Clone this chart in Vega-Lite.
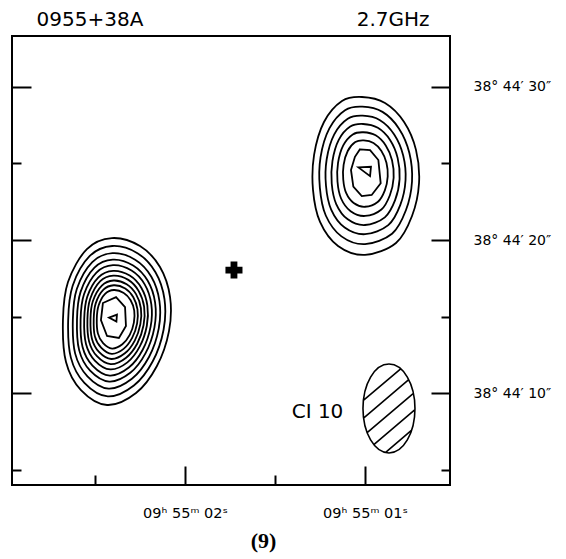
{
 "$schema": "https://vega.github.io/schema/vega-lite/v6.json",
 "width": 438,
 "height": 449,
 "autosize": {"type": "none"},
 "padding": {"left": 12, "top": 36, "right": 116, "bottom": 74},
 "background": "white",
 "config": {
  "view": {"stroke": "black", "strokeWidth": 2},
  "axis": {"grid": false, "domain": false, "tickColor": "black", "tickWidth": 2, "labelColor": "black", "labelFont": "DejaVu Sans", "labelFontSize": 13.5, "labelOverlap": false, "labelFlush": false, "labelBound": false}
 },
 "datasets": {
  "rings": [
   {"c":"L0","i":0,"ra":2.406,"dec":20.13},{"c":"L0","i":1,"ra":2.250,"dec":19.61},{"c":"L0","i":2,"ra":2.139,"dec":18.24},{"c":"L0","i":3,"ra":2.083,"dec":16.28},{"c":"L0","i":4,"ra":2.089,"dec":14.06},{"c":"L0","i":5,"ra":2.156,"dec":11.78},{"c":"L0","i":6,"ra":2.272,"dec":10.02},{"c":"L0","i":7,"ra":2.433,"dec":9.24},{"c":"L0","i":8,"ra":2.578,"dec":10.21},{"c":"L0","i":9,"ra":2.661,"dec":12.04},{"c":"L0","i":10,"ra":2.678,"dec":14.78},{"c":"L0","i":11,"ra":2.650,"dec":17.26},{"c":"L0","i":12,"ra":2.545,"dec":19.41},
   {"c":"L1","i":0,"ra":2.404,"dec":19.61},{"c":"L1","i":1,"ra":2.264,"dec":19.14},{"c":"L1","i":2,"ra":2.164,"dec":17.90},{"c":"L1","i":3,"ra":2.114,"dec":16.14},{"c":"L1","i":4,"ra":2.119,"dec":14.15},{"c":"L1","i":5,"ra":2.179,"dec":12.09},{"c":"L1","i":6,"ra":2.284,"dec":10.51},{"c":"L1","i":7,"ra":2.429,"dec":9.80},{"c":"L1","i":8,"ra":2.559,"dec":10.68},{"c":"L1","i":9,"ra":2.634,"dec":12.33},{"c":"L1","i":10,"ra":2.649,"dec":14.79},{"c":"L1","i":11,"ra":2.624,"dec":17.02},{"c":"L1","i":12,"ra":2.529,"dec":18.96},
   {"c":"L2","i":0,"ra":2.403,"dec":19.14},{"c":"L2","i":1,"ra":2.277,"dec":18.72},{"c":"L2","i":2,"ra":2.187,"dec":17.61},{"c":"L2","i":3,"ra":2.142,"dec":16.02},{"c":"L2","i":4,"ra":2.146,"dec":14.22},{"c":"L2","i":5,"ra":2.200,"dec":12.37},{"c":"L2","i":6,"ra":2.295,"dec":10.95},{"c":"L2","i":7,"ra":2.425,"dec":10.31},{"c":"L2","i":8,"ra":2.542,"dec":11.11},{"c":"L2","i":9,"ra":2.610,"dec":12.59},{"c":"L2","i":10,"ra":2.623,"dec":14.81},{"c":"L2","i":11,"ra":2.601,"dec":16.81},{"c":"L2","i":12,"ra":2.515,"dec":18.56},
   {"c":"L3","i":0,"ra":2.401,"dec":18.72},{"c":"L3","i":1,"ra":2.288,"dec":18.34},{"c":"L3","i":2,"ra":2.207,"dec":17.34},{"c":"L3","i":3,"ra":2.166,"dec":15.91},{"c":"L3","i":4,"ra":2.170,"dec":14.29},{"c":"L3","i":5,"ra":2.219,"dec":12.62},{"c":"L3","i":6,"ra":2.304,"dec":11.34},{"c":"L3","i":7,"ra":2.421,"dec":10.77},{"c":"L3","i":8,"ra":2.527,"dec":11.48},{"c":"L3","i":9,"ra":2.588,"dec":12.82},{"c":"L3","i":10,"ra":2.600,"dec":14.82},{"c":"L3","i":11,"ra":2.580,"dec":16.62},{"c":"L3","i":12,"ra":2.503,"dec":18.20},
   {"c":"L4","i":0,"ra":2.400,"dec":18.36},{"c":"L4","i":1,"ra":2.297,"dec":18.01},{"c":"L4","i":2,"ra":2.224,"dec":17.11},{"c":"L4","i":3,"ra":2.187,"dec":15.81},{"c":"L4","i":4,"ra":2.191,"dec":14.35},{"c":"L4","i":5,"ra":2.235,"dec":12.84},{"c":"L4","i":6,"ra":2.312,"dec":11.68},{"c":"L4","i":7,"ra":2.418,"dec":11.16},{"c":"L4","i":8,"ra":2.514,"dec":11.81},{"c":"L4","i":9,"ra":2.569,"dec":13.02},{"c":"L4","i":10,"ra":2.580,"dec":14.82},{"c":"L4","i":11,"ra":2.561,"dec":16.46},{"c":"L4","i":12,"ra":2.492,"dec":17.88},
   {"c":"L5","i":0,"ra":2.399,"dec":17.99},{"c":"L5","i":1,"ra":2.307,"dec":17.68},{"c":"L5","i":2,"ra":2.242,"dec":16.87},{"c":"L5","i":3,"ra":2.209,"dec":15.72},{"c":"L5","i":4,"ra":2.212,"dec":14.41},{"c":"L5","i":5,"ra":2.251,"dec":13.06},{"c":"L5","i":6,"ra":2.320,"dec":12.02},{"c":"L5","i":7,"ra":2.415,"dec":11.56},{"c":"L5","i":8,"ra":2.501,"dec":12.14},{"c":"L5","i":9,"ra":2.550,"dec":13.22},{"c":"L5","i":10,"ra":2.560,"dec":14.83},{"c":"L5","i":11,"ra":2.543,"dec":16.30},{"c":"L5","i":12,"ra":2.481,"dec":17.57},
   {"c":"L6","i":0,"ra":2.398,"dec":17.68},{"c":"L6","i":1,"ra":2.315,"dec":17.40},{"c":"L6","i":2,"ra":2.257,"dec":16.67},{"c":"L6","i":3,"ra":2.227,"dec":15.64},{"c":"L6","i":4,"ra":2.230,"dec":14.46},{"c":"L6","i":5,"ra":2.265,"dec":13.25},{"c":"L6","i":6,"ra":2.327,"dec":12.32},{"c":"L6","i":7,"ra":2.413,"dec":11.90},{"c":"L6","i":8,"ra":2.489,"dec":12.42},{"c":"L6","i":9,"ra":2.533,"dec":13.39},{"c":"L6","i":10,"ra":2.542,"dec":14.84},{"c":"L6","i":11,"ra":2.527,"dec":16.15},{"c":"L6","i":12,"ra":2.472,"dec":17.30},
   {"c":"L7","i":0,"ra":2.397,"dec":17.36},{"c":"L7","i":1,"ra":2.324,"dec":17.12},{"c":"L7","i":2,"ra":2.272,"dec":16.47},{"c":"L7","i":3,"ra":2.245,"dec":15.55},{"c":"L7","i":4,"ra":2.248,"dec":14.51},{"c":"L7","i":5,"ra":2.279,"dec":13.44},{"c":"L7","i":6,"ra":2.334,"dec":12.61},{"c":"L7","i":7,"ra":2.410,"dec":12.24},{"c":"L7","i":8,"ra":2.478,"dec":12.70},{"c":"L7","i":9,"ra":2.517,"dec":13.56},{"c":"L7","i":10,"ra":2.525,"dec":14.85},{"c":"L7","i":11,"ra":2.512,"dec":16.01},{"c":"L7","i":12,"ra":2.462,"dec":17.03},
   {"c":"L8","i":0,"ra":2.396,"dec":17.05},{"c":"L8","i":1,"ra":2.332,"dec":16.84},{"c":"L8","i":2,"ra":2.287,"dec":16.27},{"c":"L8","i":3,"ra":2.264,"dec":15.47},{"c":"L8","i":4,"ra":2.266,"dec":14.56},{"c":"L8","i":5,"ra":2.293,"dec":13.63},{"c":"L8","i":6,"ra":2.341,"dec":12.90},{"c":"L8","i":7,"ra":2.407,"dec":12.58},{"c":"L8","i":8,"ra":2.466,"dec":12.98},{"c":"L8","i":9,"ra":2.501,"dec":13.73},{"c":"L8","i":10,"ra":2.507,"dec":14.86},{"c":"L8","i":11,"ra":2.496,"dec":15.87},{"c":"L8","i":12,"ra":2.453,"dec":16.76},
   {"c":"L9","i":0,"ra":2.395,"dec":16.74},{"c":"L9","i":1,"ra":2.340,"dec":16.55},{"c":"L9","i":2,"ra":2.302,"dec":16.07},{"c":"L9","i":3,"ra":2.282,"dec":15.39},{"c":"L9","i":4,"ra":2.284,"dec":14.61},{"c":"L9","i":5,"ra":2.307,"dec":13.81},{"c":"L9","i":6,"ra":2.348,"dec":13.20},{"c":"L9","i":7,"ra":2.405,"dec":12.92},{"c":"L9","i":8,"ra":2.455,"dec":13.27},{"c":"L9","i":9,"ra":2.484,"dec":13.91},{"c":"L9","i":10,"ra":2.490,"dec":14.86},{"c":"L9","i":11,"ra":2.480,"dec":15.73},{"c":"L9","i":12,"ra":2.444,"dec":16.49},
   {"c":"R0","i":0,"ra":1.017,"dec":29.33},{"c":"R0","i":1,"ra":0.889,"dec":28.94},{"c":"R0","i":2,"ra":0.783,"dec":27.70},{"c":"R0","i":3,"ra":0.717,"dec":25.88},{"c":"R0","i":4,"ra":0.700,"dec":23.72},{"c":"R0","i":5,"ra":0.739,"dec":21.57},{"c":"R0","i":6,"ra":0.828,"dec":19.81},{"c":"R0","i":7,"ra":1.000,"dec":19.03},{"c":"R0","i":8,"ra":1.150,"dec":19.61},{"c":"R0","i":9,"ra":1.250,"dec":21.18},{"c":"R0","i":10,"ra":1.289,"dec":23.27},{"c":"R0","i":11,"ra":1.283,"dec":25.55},{"c":"R0","i":12,"ra":1.228,"dec":27.70},{"c":"R0","i":13,"ra":1.128,"dec":29.07},
   {"c":"R1","i":0,"ra":1.015,"dec":28.70},{"c":"R1","i":1,"ra":0.903,"dec":28.36},{"c":"R1","i":2,"ra":0.812,"dec":27.28},{"c":"R1","i":3,"ra":0.754,"dec":25.69},{"c":"R1","i":4,"ra":0.739,"dec":23.82},{"c":"R1","i":5,"ra":0.773,"dec":21.94},{"c":"R1","i":6,"ra":0.850,"dec":20.41},{"c":"R1","i":7,"ra":1.000,"dec":19.73},{"c":"R1","i":8,"ra":1.131,"dec":20.24},{"c":"R1","i":9,"ra":1.218,"dec":21.60},{"c":"R1","i":10,"ra":1.251,"dec":23.42},{"c":"R1","i":11,"ra":1.247,"dec":25.41},{"c":"R1","i":12,"ra":1.198,"dec":27.28},{"c":"R1","i":13,"ra":1.111,"dec":28.47},
   {"c":"R2","i":0,"ra":1.013,"dec":28.11},{"c":"R2","i":1,"ra":0.917,"dec":27.82},{"c":"R2","i":2,"ra":0.838,"dec":26.89},{"c":"R2","i":3,"ra":0.788,"dec":25.52},{"c":"R2","i":4,"ra":0.775,"dec":23.90},{"c":"R2","i":5,"ra":0.804,"dec":22.29},{"c":"R2","i":6,"ra":0.871,"dec":20.97},{"c":"R2","i":7,"ra":1.000,"dec":20.38},{"c":"R2","i":8,"ra":1.113,"dec":20.82},{"c":"R2","i":9,"ra":1.188,"dec":21.99},{"c":"R2","i":10,"ra":1.217,"dec":23.56},{"c":"R2","i":11,"ra":1.213,"dec":25.27},{"c":"R2","i":12,"ra":1.171,"dec":26.89},{"c":"R2","i":13,"ra":1.096,"dec":27.91},
   {"c":"R3","i":0,"ra":1.011,"dec":27.57},{"c":"R3","i":1,"ra":0.929,"dec":27.32},{"c":"R3","i":2,"ra":0.861,"dec":26.53},{"c":"R3","i":3,"ra":0.819,"dec":25.36},{"c":"R3","i":4,"ra":0.808,"dec":23.98},{"c":"R3","i":5,"ra":0.833,"dec":22.60},{"c":"R3","i":6,"ra":0.890,"dec":21.48},{"c":"R3","i":7,"ra":1.000,"dec":20.98},{"c":"R3","i":8,"ra":1.096,"dec":21.35},{"c":"R3","i":9,"ra":1.160,"dec":22.35},{"c":"R3","i":10,"ra":1.185,"dec":23.69},{"c":"R3","i":11,"ra":1.181,"dec":25.15},{"c":"R3","i":12,"ra":1.146,"dec":26.53},{"c":"R3","i":13,"ra":1.082,"dec":27.40},
   {"c":"R4","i":0,"ra":1.009,"dec":27.03},{"c":"R4","i":1,"ra":0.941,"dec":26.83},{"c":"R4","i":2,"ra":0.885,"dec":26.17},{"c":"R4","i":3,"ra":0.850,"dec":25.20},{"c":"R4","i":4,"ra":0.841,"dec":24.06},{"c":"R4","i":5,"ra":0.862,"dec":22.92},{"c":"R4","i":6,"ra":0.909,"dec":21.99},{"c":"R4","i":7,"ra":1.000,"dec":21.57},{"c":"R4","i":8,"ra":1.080,"dec":21.88},{"c":"R4","i":9,"ra":1.133,"dec":22.71},{"c":"R4","i":10,"ra":1.153,"dec":23.82},{"c":"R4","i":11,"ra":1.150,"dec":25.03},{"c":"R4","i":12,"ra":1.121,"dec":26.17},{"c":"R4","i":13,"ra":1.068,"dec":26.89},
   {"c":"R5","i":0,"ra":1.007,"dec":26.50},{"c":"R5","i":1,"ra":0.953,"dec":26.33},{"c":"R5","i":2,"ra":0.909,"dec":25.81},{"c":"R5","i":3,"ra":0.881,"dec":25.04},{"c":"R5","i":4,"ra":0.874,"dec":24.14},{"c":"R5","i":5,"ra":0.890,"dec":23.24},{"c":"R5","i":6,"ra":0.928,"dec":22.50},{"c":"R5","i":7,"ra":1.000,"dec":22.17},{"c":"R5","i":8,"ra":1.063,"dec":22.41},{"c":"R5","i":9,"ra":1.105,"dec":23.07},{"c":"R5","i":10,"ra":1.121,"dec":23.95},{"c":"R5","i":11,"ra":1.119,"dec":24.91},{"c":"R5","i":12,"ra":1.096,"dec":25.81},{"c":"R5","i":13,"ra":1.054,"dec":26.39}
  ],
  "cores": [
   {"c":"LH","i":0,"ra":2.383,"dec":16.28},{"c":"LH","i":1,"ra":2.333,"dec":15.63},{"c":"LH","i":2,"ra":2.328,"dec":14.39},{"c":"LH","i":3,"ra":2.367,"dec":13.61},{"c":"LH","i":4,"ra":2.433,"dec":13.74},{"c":"LH","i":5,"ra":2.467,"dec":14.78},{"c":"LH","i":6,"ra":2.456,"dec":15.89},
   {"c":"LT","i":0,"ra":2.422,"dec":14.94},{"c":"LT","i":1,"ra":2.378,"dec":15.14},{"c":"LT","i":2,"ra":2.381,"dec":14.68},
   {"c":"RH","i":0,"ra":1.028,"dec":25.92},{"c":"RH","i":1,"ra":0.972,"dec":25.87},{"c":"RH","i":2,"ra":0.926,"dec":25.22},{"c":"RH","i":3,"ra":0.913,"dec":23.70},{"c":"RH","i":4,"ra":0.963,"dec":22.94},{"c":"RH","i":5,"ra":1.018,"dec":22.87},{"c":"RH","i":6,"ra":1.065,"dec":23.48},{"c":"RH","i":7,"ra":1.078,"dec":24.57},{"c":"RH","i":8,"ra":1.056,"dec":25.43},
   {"c":"RT","i":0,"ra":1.037,"dec":24.74},{"c":"RT","i":1,"ra":0.967,"dec":24.78},{"c":"RT","i":2,"ra":0.972,"dec":24.17}
  ],
  "notes": [
   {"txt":"0955+38A","ra":2.528,"dec":33.96},
   {"txt":"2.7GHz","ra":0.844,"dec":33.96},
   {"txt":"CI 10","ra":1.264,"dec":8.39}
  ]
 },
 "resolve": {"axis": {"y": "independent"}},
 "layer": [
  {
   "data": {"name": "rings"},
   "mark": {"type": "line", "interpolate": "cardinal-closed", "stroke": "black", "strokeWidth": 1.8},
   "encoding": {
    "x": {"field": "ra", "type": "quantitative", "scale": {"domain": [0.528, 2.961], "reverse": true, "nice": false, "zero": false},
     "axis": {"orient": "bottom", "values": [2.5, 2, 1.5, 1],
      "tickSize": {"condition": {"test": "datum.value === 1 || datum.value === 2", "value": -19}, "value": -10},
      "labelExpr": "datum.value === 2 ? '09ʰ 55ᵐ 02ˢ' : (datum.value === 1 ? '09ʰ 55ᵐ 01ˢ' : '')",
      "labelPadding": 40, "labelFontSize": 14.5,
      "title": "(9)", "titleFont": "Liberation Serif", "titleFontWeight": "bold", "titleFontSize": 22, "titleColor": "black", "titlePadding": 2, "titleX": 251}},
    "y": {"field": "dec", "type": "quantitative", "scale": {"domain": [4.02, 33.31], "nice": false, "zero": false},
     "axis": {"orient": "left", "values": [5, 10, 15, 20, 25, 30],
      "tickSize": {"condition": {"test": "datum.value % 10 === 0", "value": -19}, "value": -9},
      "labels": false, "title": null}},
    "detail": {"field": "c"},
    "order": {"field": "i", "type": "quantitative"}
   }
  },
  {
   "data": {"name": "cores"},
   "mark": {"type": "line", "interpolate": "linear-closed", "stroke": "black", "strokeWidth": 1.8},
   "encoding": {
    "x": {"field": "ra", "type": "quantitative", "scale": {"domain": [0.528, 2.961], "reverse": true, "nice": false, "zero": false}},
    "y": {"field": "dec", "type": "quantitative", "scale": {"domain": [4.02, 33.31], "nice": false, "zero": false},
     "axis": {"orient": "right", "values": [5, 10, 15, 20, 25, 30],
      "tickSize": {"condition": {"test": "datum.value % 10 === 0", "value": -19}, "value": -9},
      "labelExpr": "datum.value % 10 === 0 ? '38° 44′ ' + datum.value + '″' : ''",
      "labelPadding": 42, "labelFontSize": 14, "title": null}},
    "detail": {"field": "c"},
    "order": {"field": "i", "type": "quantitative"}
   }
  },
  {
   "data": {"values": [{"ra": 1.728, "dec": 18.04}]},
   "mark": {"type": "point", "shape": "cross", "filled": true, "color": "black", "size": 290, "opacity": 1},
   "encoding": {
    "x": {"field": "ra", "type": "quantitative", "scale": {"domain": [0.528, 2.961], "reverse": true, "nice": false, "zero": false}},
    "y": {"field": "dec", "type": "quantitative", "scale": {"domain": [4.02, 33.31], "nice": false, "zero": false}, "axis": null}
   }
  },
  {
   "data": {"values": [{"ra": 0.867, "dec": 9.01}]},
   "mark": {"type": "point", "shape": "M0,-1.71A1,1.71,0,1,1,0,1.71A1,1.71,0,1,1,0,-1.71ZM0.45,-1.527L-0.984,-0.309M0.76,-1.111L-0.977,0.366M0.94,-0.584L-0.84,0.929M1,0.045L-0.582,1.39M0.873,0.833L-0.139,1.693", "filled": false, "stroke": "black", "strokeWidth": 1.6, "size": 2704, "opacity": 1},
   "encoding": {
    "x": {"field": "ra", "type": "quantitative", "scale": {"domain": [0.528, 2.961], "reverse": true, "nice": false, "zero": false}},
    "y": {"field": "dec", "type": "quantitative", "scale": {"domain": [4.02, 33.31], "nice": false, "zero": false}, "axis": null}
   }
  },
  {
   "data": {"name": "notes"},
   "mark": {"type": "text", "font": "DejaVu Sans", "fontSize": 20, "color": "black", "align": "center", "baseline": "alphabetic"},
   "encoding": {
    "x": {"field": "ra", "type": "quantitative", "scale": {"domain": [0.528, 2.961], "reverse": true, "nice": false, "zero": false}},
    "y": {"field": "dec", "type": "quantitative", "scale": {"domain": [4.02, 33.31], "nice": false, "zero": false}, "axis": null},
    "text": {"field": "txt"}
   }
  }
 ]
}
